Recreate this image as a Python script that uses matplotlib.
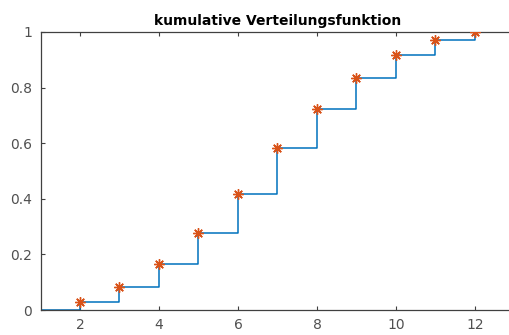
import numpy as np
import matplotlib
matplotlib.use('Agg')
import matplotlib.pyplot as plt

# sum of two dice: cumulative counts out of 36
augen = [2, 3, 4, 5, 6, 7, 8, 9, 10, 11, 12]
kum_anzahl = [1, 3, 6, 10, 15, 21, 26, 30, 33, 35, 36]

x = np.array([1] + augen)
F = np.array([0] + kum_anzahl) / 36.0

achse = '#404040'
fig = plt.figure(figsize=(5.09, 3.35), dpi=100)
ax = fig.add_axes([0.0796, 0.0746, 0.931, 0.830])

ax.step(x, F, where='post', color='#0072BD', lw=1.1, zorder=2)
# 8-armed asterisk like MATLAB's '*'
ax.plot(augen, F[1:], ls='none', marker=(8, 2, 0), ms=7.5, mfc='#D95319',
        mec='#D95319', mew=1.0, zorder=3)

ax.set_xlim(1, 13)
ax.set_ylim(0, 1)
ax.set_xticks([2, 4, 6, 8, 10, 12])
ax.set_yticks([0, 0.2, 0.4, 0.6, 0.8, 1])
ax.set_yticklabels(['0', '0.2', '0.4', '0.6', '0.8', '1'])
ax.tick_params(direction='in', length=3, width=0.8, top=True, right=True,
               colors=achse, labelsize=10, labelcolor='#505050', pad=6)
for s in ax.spines.values():
    s.set_color(achse)
    s.set_linewidth(0.9)

ax.set_title('kumulative Verteilungsfunktion', fontsize=10, fontweight='bold', pad=5)

fig.savefig('out.png', dpi=100)
